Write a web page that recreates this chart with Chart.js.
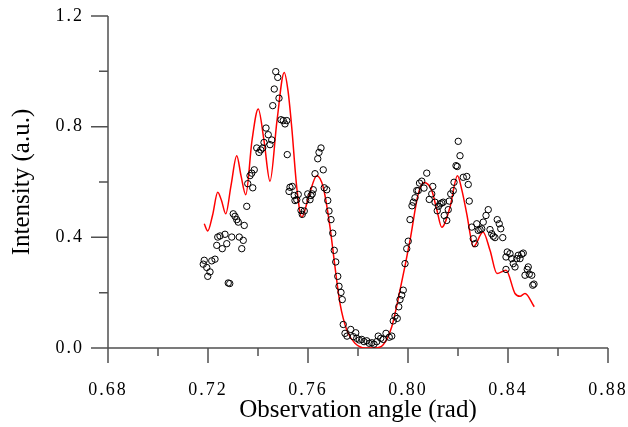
<!DOCTYPE html>
<html>
<head>
<meta charset="utf-8">
<script src="https://cdn.jsdelivr.net/npm/chart.js@4.4.1/dist/chart.umd.min.js"></script>
<style>
  body { margin: 0; background: #fff; }
  #wrap { width: 628px; height: 427px; }
</style>
</head>
<body>
<div id="wrap"><canvas id="chart" width="628" height="427"></canvas></div>
<script>
// simulated curve (red line)
const lineX = [0.7185, 0.7199, 0.7218, 0.7239, 0.7254, 0.7271, 0.7292, 0.7315, 0.7332, 0.7351,
  0.7376, 0.7401, 0.7424, 0.7448, 0.7476, 0.7505, 0.7520, 0.7535, 0.7555, 0.7575,
  0.7604, 0.7635, 0.7661, 0.7688, 0.7708, 0.7728, 0.7755, 0.7788, 0.7828, 0.7868,
  0.7900, 0.7935, 0.7968, 0.8008, 0.8041, 0.8064, 0.8095, 0.8116, 0.8135, 0.8168,
  0.8198, 0.8216, 0.8235, 0.8262, 0.8300, 0.8328, 0.8356, 0.8392, 0.8428, 0.8448,
  0.8468, 0.8505];
const lineY = [0.449, 0.423, 0.479, 0.563, 0.533, 0.485, 0.587, 0.695, 0.623, 0.554,
  0.750, 0.864, 0.750, 0.603, 0.822, 0.996, 0.930, 0.797, 0.581, 0.473,
  0.551, 0.623, 0.581, 0.437, 0.293, 0.161, 0.065, 0.017, 0.000, 0.000,
  0.011, 0.077, 0.209, 0.389, 0.557, 0.598, 0.569, 0.497, 0.436, 0.509,
  0.623, 0.569, 0.485, 0.366, 0.419, 0.353, 0.269, 0.281, 0.197, 0.187,
  0.197, 0.149];

// measured intensities (open circles)
const dotX = [0.7181, 0.7185, 0.7195, 0.7199, 0.7208, 0.7215, 0.7228, 0.7235, 0.7239, 0.7248,
  0.7257, 0.7268, 0.7275, 0.7281, 0.7287, 0.7295, 0.7301, 0.7308, 0.7315, 0.7321,
  0.7325, 0.7335, 0.7341, 0.7345, 0.7355, 0.7359, 0.7368, 0.7375, 0.7379, 0.7385,
  0.7395, 0.7404, 0.7411, 0.7419, 0.7424, 0.7432, 0.7441, 0.7448, 0.7455, 0.7459,
  0.7465, 0.7471, 0.7479, 0.7484, 0.7492, 0.7501, 0.7508, 0.7515, 0.7517, 0.7524,
  0.7528, 0.7537, 0.7545, 0.7548, 0.7555, 0.7561, 0.7572, 0.7577, 0.7585, 0.7591,
  0.7599, 0.7608, 0.7612, 0.7617, 0.7621, 0.7628, 0.7639, 0.7644, 0.7652, 0.7661,
  0.7665, 0.7675, 0.7679, 0.7684, 0.7692, 0.7699, 0.7705, 0.7711, 0.7719, 0.7724,
  0.7732, 0.7737, 0.7741, 0.7748, 0.7756, 0.7771, 0.7781, 0.7791, 0.7795, 0.7805,
  0.7815, 0.7824, 0.7835, 0.7845, 0.7855, 0.7864, 0.7875, 0.7881, 0.7891, 0.7901,
  0.7912, 0.7925, 0.7935, 0.7941, 0.7948, 0.7957, 0.7963, 0.7968, 0.7975, 0.7981,
  0.7988, 0.7995, 0.8001, 0.8008, 0.8016, 0.8021, 0.8028, 0.8035, 0.8041, 0.8046,
  0.8055, 0.8064, 0.8075, 0.8085, 0.8095, 0.8099, 0.8108, 0.8117, 0.8122, 0.8128,
  0.8135, 0.8141, 0.8145, 0.8155, 0.8161, 0.8165, 0.8171, 0.8181, 0.8184, 0.8192,
  0.8197, 0.8201, 0.8208, 0.8221, 0.8235, 0.8241, 0.8245, 0.8255, 0.8261, 0.8268,
  0.8275, 0.8281, 0.8288, 0.8295, 0.8301, 0.8312, 0.8321, 0.8328, 0.8335, 0.8341,
  0.8348, 0.8357, 0.8365, 0.8371, 0.8379, 0.8392, 0.8392, 0.8397, 0.8408, 0.8415,
  0.8421, 0.8428, 0.8435, 0.8441, 0.8448, 0.8455, 0.8461, 0.8468, 0.8477, 0.8481,
  0.8485, 0.8495, 0.8499, 0.8504];
const dotY = [0.303, 0.317, 0.291, 0.259, 0.275, 0.315, 0.321, 0.371, 0.401, 0.405,
  0.359, 0.411, 0.377, 0.235, 0.233, 0.401, 0.485, 0.476, 0.464, 0.455,
  0.401, 0.359, 0.389, 0.443, 0.512, 0.594, 0.623, 0.632, 0.579, 0.644,
  0.723, 0.707, 0.716, 0.723, 0.743, 0.795, 0.771, 0.735, 0.752, 0.876,
  0.936, 0.999, 0.978, 0.903, 0.825, 0.822, 0.810, 0.822, 0.699, 0.566,
  0.581, 0.584, 0.551, 0.533, 0.536, 0.555, 0.497, 0.483, 0.495, 0.533,
  0.557, 0.536, 0.551, 0.557, 0.572, 0.630, 0.684, 0.707, 0.723, 0.644,
  0.579, 0.572, 0.533, 0.495, 0.464, 0.415, 0.353, 0.311, 0.259, 0.223,
  0.201, 0.175, 0.085, 0.053, 0.043, 0.067, 0.041, 0.055, 0.035, 0.029,
  0.031, 0.023, 0.026, 0.017, 0.019, 0.014, 0.023, 0.043, 0.035, 0.031,
  0.053, 0.039, 0.043, 0.098, 0.115, 0.107, 0.149, 0.175, 0.191, 0.209,
  0.305, 0.359, 0.386, 0.464, 0.514, 0.527, 0.543, 0.569, 0.569, 0.596,
  0.603, 0.578, 0.632, 0.537, 0.557, 0.584, 0.527, 0.496, 0.512, 0.521,
  0.524, 0.527, 0.479, 0.461, 0.500, 0.531, 0.557, 0.569, 0.599, 0.659,
  0.656, 0.747, 0.695, 0.617, 0.620, 0.591, 0.531, 0.437, 0.395, 0.377,
  0.449, 0.425, 0.428, 0.431, 0.455, 0.479, 0.500, 0.428, 0.413, 0.404,
  0.399, 0.464, 0.449, 0.431, 0.399, 0.329, 0.284, 0.347, 0.341, 0.323,
  0.305, 0.293, 0.323, 0.335, 0.323, 0.339, 0.343, 0.263, 0.284, 0.293,
  0.267, 0.263, 0.227, 0.231];

// axis tick positions
const xMajor = [0.68, 0.72, 0.76, 0.80, 0.84, 0.88];
const xMinor = [0.70, 0.74, 0.78, 0.82, 0.86];
const yMajor = [0.0, 0.4, 0.8, 1.2];
const yMinor = [0.2, 0.6, 1.0];

const xTitle = 'Observation angle (rad)';
const yTitle = 'Intensity (a.u.)';

const axisColor = '#505050';
const serif = "'Liberation Serif', 'Times New Roman', serif";

// draws the L-shaped frame with outward major and minor ticks, plus axis titles
const axesPlugin = {
  id: 'axes',
  beforeDraw(chart) {
    // tick labels in the original are loosely spaced
    chart.ctx.letterSpacing = '2px';
  },
  beforeDatasetsDraw(chart) {
    const { ctx, chartArea: a, scales: { x, y } } = chart;
    ctx.save();
    ctx.strokeStyle = axisColor;
    ctx.lineWidth = 1.5;
    ctx.beginPath();
    ctx.moveTo(a.left, a.top);
    ctx.lineTo(a.left, a.bottom);
    ctx.lineTo(a.right, a.bottom);
    xMajor.forEach(v => {
      const p = x.getPixelForValue(v);
      ctx.moveTo(p, a.bottom); ctx.lineTo(p, a.bottom + 15);
    });
    xMinor.forEach(v => {
      const p = x.getPixelForValue(v);
      ctx.moveTo(p, a.bottom); ctx.lineTo(p, a.bottom + 8);
    });
    yMajor.forEach(v => {
      const p = y.getPixelForValue(v);
      ctx.moveTo(a.left, p); ctx.lineTo(a.left - 17, p);
    });
    yMinor.forEach(v => {
      const p = y.getPixelForValue(v);
      ctx.moveTo(a.left, p); ctx.lineTo(a.left - 9, p);
    });
    ctx.stroke();
    ctx.restore();
  },
  afterDraw(chart) {
    const { ctx, chartArea: a } = chart;
    ctx.save();
    ctx.letterSpacing = '0px';
    ctx.fillStyle = '#000';
    ctx.font = '25px ' + serif;
    ctx.textAlign = 'center';
    ctx.textBaseline = 'alphabetic';
    ctx.fillText(xTitle, (a.left + a.right) / 2, 417);
    ctx.translate(28.5, (a.top + a.bottom) / 2);
    ctx.rotate(-Math.PI / 2);
    ctx.fillText(yTitle, 0, 0);
    ctx.restore();
  }
};

const ctx = document.getElementById('chart').getContext('2d');
new Chart(ctx, {
  type: 'scatter',
  data: {
    datasets: [
      {
        label: 'Measured',
        data: dotX.map((v, i) => ({ x: v, y: dotY[i] })),
        pointStyle: 'circle',
        pointRadius: 3.2,
        borderColor: '#000',
        borderWidth: 1,
        backgroundColor: 'rgba(0,0,0,0)',
        showLine: false
      },
      {
        label: 'Simulated',
        data: lineX.map((v, i) => ({ x: v, y: lineY[i] })),
        showLine: true,
        borderColor: '#ff0000',
        borderWidth: 1.5,
        pointRadius: 0,
        cubicInterpolationMode: 'monotone',
        fill: false
      }
    ]
  },
  options: {
    responsive: false,
    animation: false,
    layout: { padding: { top: 16, right: 20, left: 0, bottom: 0 } },
    plugins: {
      legend: { display: false },
      tooltip: { enabled: false }
    },
    scales: {
      x: {
        type: 'linear',
        min: 0.68,
        max: 0.88,
        grid: { display: false, drawTicks: false },
        border: { display: false },
        ticks: {
          stepSize: 0.04,
          padding: 31,
          color: '#000',
          font: { family: serif, size: 18 },
          callback: v => v.toFixed(2)
        },
        afterFit: s => {
          s.height = 79;
          s.paddingLeft = 0; s.paddingRight = 0;
          s.paddingTop = 0; s.paddingBottom = 0;
        }
      },
      y: {
        min: 0,
        max: 1.2,
        grid: { display: false, drawTicks: false },
        border: { display: false },
        ticks: {
          stepSize: 0.4,
          padding: 24,
          color: '#000',
          font: { family: serif, size: 18 },
          callback: v => v.toFixed(1)
        },
        afterFit: s => {
          s.width = 108;
          s.paddingLeft = 0; s.paddingRight = 0;
          s.paddingTop = 0; s.paddingBottom = 0;
        }
      }
    }
  },
  plugins: [axesPlugin]
});
</script>
</body>
</html>
